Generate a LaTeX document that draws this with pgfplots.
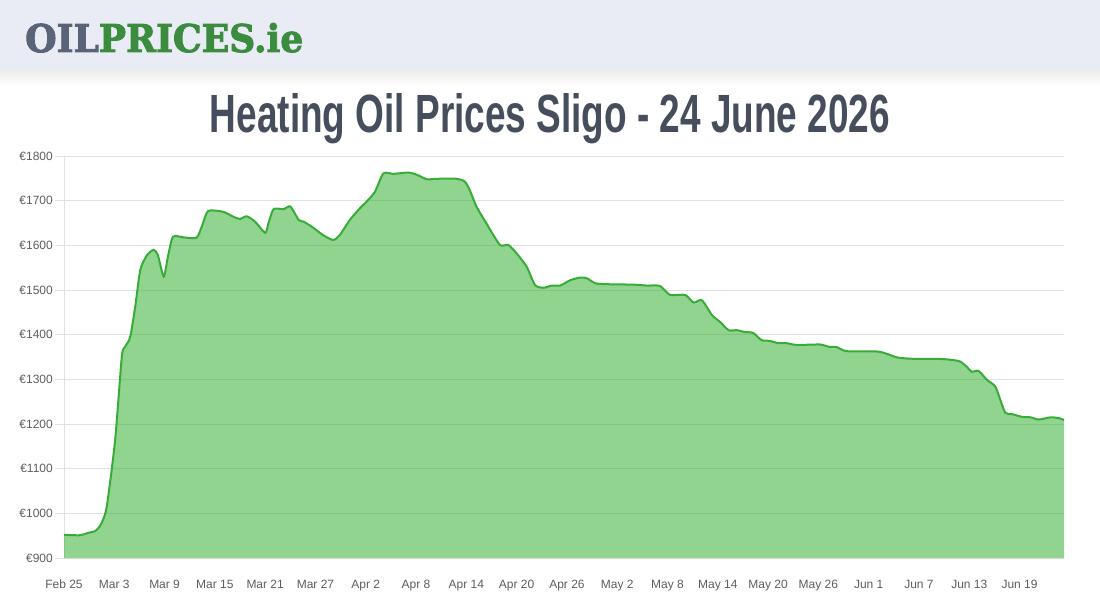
\documentclass[border=0pt]{standalone}
\usepackage{pgfplots}
\pgfplotsset{compat=1.18}
\usepackage{fontspec}
\setmainfont{Liberation Sans}
\newfontfamily\logofont{DejaVu Serif Bold}[FakeBold=2.5]
\newfontfamily\titlefont{Liberation Sans Bold}
\definecolor{hdr}{HTML}{E9ECF4}
\definecolor{logogray}{HTML}{596479}
\definecolor{logogreen}{HTML}{3B8C3E}
\definecolor{titlecol}{HTML}{464E5E}
\definecolor{gridgray}{HTML}{E2E2E2}
\definecolor{ticktext}{HTML}{5E5E5E}
\definecolor{linegreen}{HTML}{37AD37}
\definecolor{fillgreen}{HTML}{23AB23}
\pgfplotstableread{
d v
0 952
1.9 951
3 957
3.7 960
4.4 975
5.1 1015
6.1 1164
6.9 1351
7.3 1373
7.9 1395
8.5 1463
9.1 1545
9.9 1578
10.7 1590
11.2 1578
11.9 1530
12.4 1575
13.0 1619
14.2 1618
15.8 1617
16.5 1645
17.2 1677
19.0 1675
20.2 1664
21.0 1659
21.8 1665
22.8 1653
24.0 1628
24.4 1650
25.0 1681
26.2 1681
27.0 1687
28.0 1657
28.6 1653
29.7 1640
30.9 1623
32.1 1612
32.9 1623
34.1 1657
35.3 1683
36.1 1698
37.1 1720
38.1 1761
39.3 1760
41.1 1763
42.1 1758
43.3 1748
44.5 1749
46.8 1749
47.8 1743
48.4 1724
49.2 1687
50.4 1649
52.0 1601
53.0 1601
54.0 1582
55.2 1552
56.2 1511
57.2 1505
58.2 1510
59.2 1510
60.4 1522
61.6 1528
62.4 1526
63.4 1515
64.8 1513
67.9 1512
69.5 1510
71.1 1509
72.3 1489
74.1 1489
75.1 1472
76.1 1477
77.3 1444
78.3 1428
79.3 1410
80.3 1410
81.2 1406
82.2 1404
83.2 1388
84.2 1386
85.2 1381
86.2 1381
87.4 1377
90.2 1378
91.2 1373
92.2 1372
93.4 1363
97.2 1362
99.4 1349
101.3 1346
104.1 1346
105.7 1344
106.9 1340
107.7 1328
108.3 1317
109.1 1319
110.1 1299
111.1 1284
111.7 1254
112.3 1225
113.1 1222
114.3 1216
115.3 1215
116.3 1210
117.7 1215
118.7 1213
119.3 1209
}\prices
\begin{document}
\begin{tikzpicture}[x=1pt,y=1pt]
\fill[white] (0,0) rectangle (1100,600);
\fill[hdr] (0,530) rectangle (1100,600);
\shade[top color=black!7, bottom color=white] (0,514) rectangle (1100,530);
\node[anchor=base west, inner sep=0] at (25,548) {\resizebox{278pt}{29pt}{\logofont\textcolor{logogray}{OIL}\textcolor{logogreen}{PRICES.ie}}};
\node[anchor=base, inner sep=0] at (550,467) {\resizebox{680pt}{39pt}{\titlefont\color{titlecol}Heating Oil Prices Sligo - 24 June 2026}};
\begin{axis}[
  at={(64pt,42pt)}, anchor=south west, scale only axis,
  width=1000pt, height=402pt,
  xmin=0, xmax=119.3, ymin=900, ymax=1800,
  axis x line*=bottom, axis y line*=left,
  x axis line style={draw=none},
  y axis line style={draw=gridgray, line width=1pt, -},
  ymajorgrids, grid style={gridgray, line width=1pt},
  ytick={900,1000,...,1800},
  yticklabels={€900,€1000,€1100,€1200,€1300,€1400,€1500,€1600,€1700,€1800},
  xtick={0,6,...,114},
  xticklabels={Feb 25,Mar 3,Mar 9,Mar 15,Mar 21,Mar 27,Apr 2,Apr 8,Apr 14,Apr 20,Apr 26,May 2,May 8,May 14,May 20,May 26,Jun 1,Jun 7,Jun 13,Jun 19},
  tick align=outside,
  major tick length=9pt,
  ytick style={draw=gridgray, line width=1pt},
  xtick style={draw=none},
  ticklabel style={font=\fontsize{12}{14}\selectfont, text=ticktext},
  xticklabel style={anchor=base, yshift=-21pt, inner sep=0pt},
  yticklabel style={anchor=base east, yshift=-4.3pt, xshift=-2pt, inner sep=0pt},
  /pgf/number format/assume math mode=true,
  clip=false,
]
\addplot[draw=none, fill=fillgreen, fill opacity=0.5, smooth, tension=0.4] table[x=d,y=v]{\prices} \closedcycle;
\addplot[linegreen, line width=2pt, smooth, tension=0.4] table[x=d,y=v]{\prices};
\end{axis}
\end{tikzpicture}
\end{document}
